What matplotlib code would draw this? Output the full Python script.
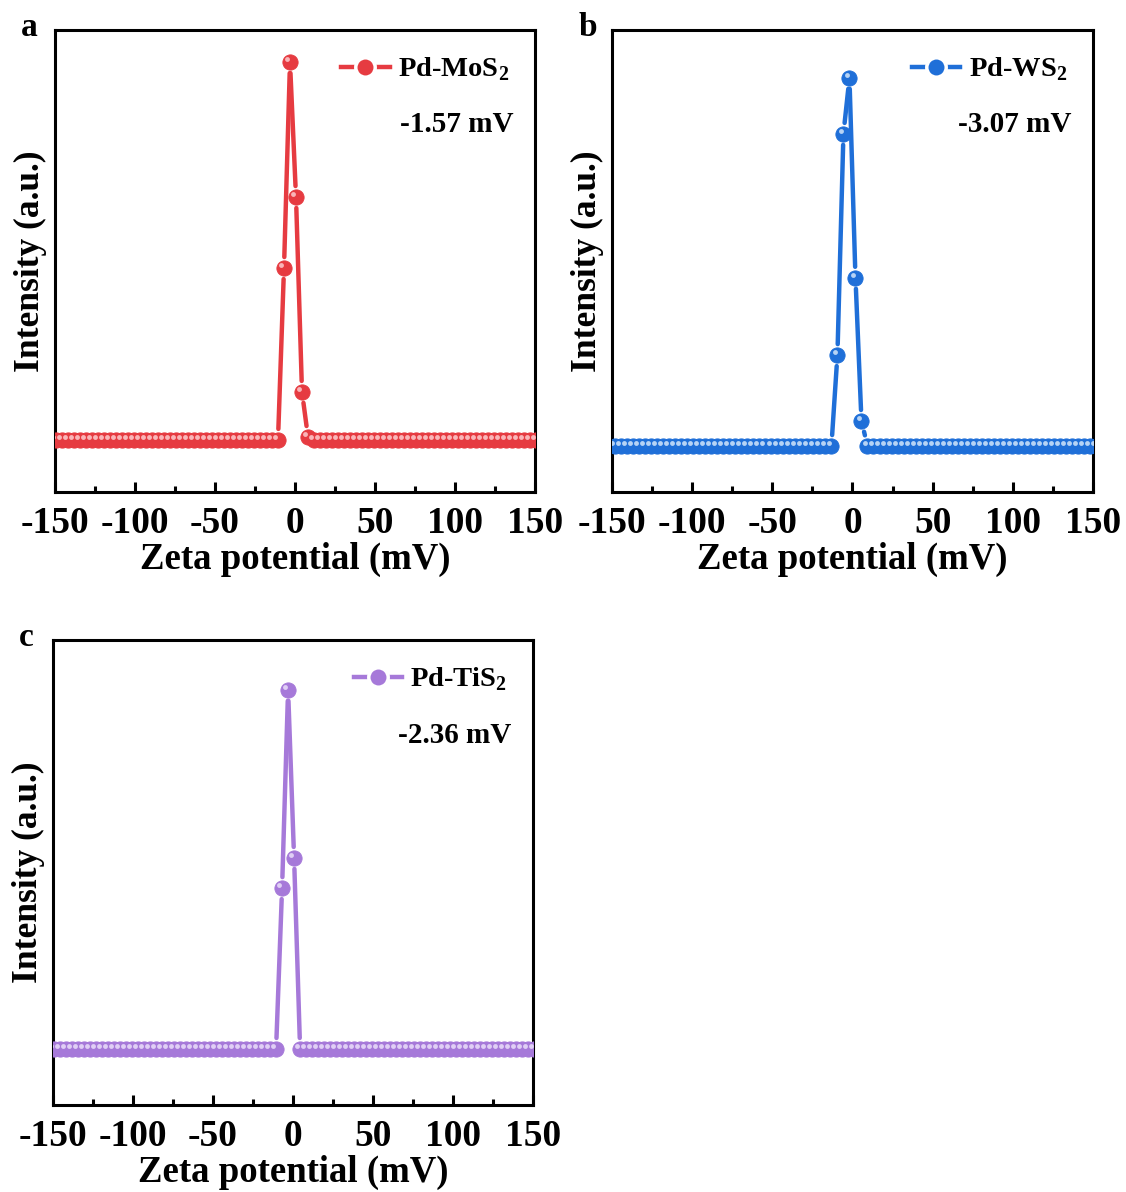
import numpy as np
import matplotlib.pyplot as plt
from matplotlib.lines import Line2D
from matplotlib import transforms

plt.rcParams['font.family'] = ['Liberation Serif', 'DejaVu Serif']
plt.rcParams['font.weight'] = 'bold'
plt.rcParams['axes.unicode_minus'] = False
plt.rcParams['mathtext.fontset'] = 'custom'
plt.rcParams['mathtext.rm'] = 'Liberation Serif:bold'
plt.rcParams['mathtext.bf'] = 'Liberation Serif:bold'

# grid spacing of the zeta potential channels (mV)
step = 3.75

# peak points (x in mV, relative intensity); everything else is baseline (0)
mos2_x = [-6.85, -3.1, 0.65, 4.4, 8.15]
mos2_y = [0.455, 1.0, 0.643, 0.127, 0.008]

ws2_x = [-9.4, -5.65, -1.9, 1.85, 5.6]
ws2_y = [0.247, 0.848, 1.0, 0.457, 0.068]

tis2_x = [-6.85, -3.1, 0.65]
tis2_y = [0.448, 1.0, 0.532]

names = [r'Pd-MoS$_2$', r'Pd-WS$_2$', r'Pd-TiS$_2$']
zetas = ['-1.57 mV', '-3.07 mV', '-2.36 mV']
colors = ['#E63B41', '#1F6FD8', '#A679D9']
light = ['#F9B5B8', '#B6D3F5', '#E0CFF5']
letters = ['a', 'b', 'c']
ylims = [(-0.138, 1.085), (-0.125, 1.13), (-0.156, 1.139)]


def full_series(px, py):
    x0 = px[0]
    k = np.arange(-int((150 + x0) / step) - 1, int((150 - x0) / step) + 2)
    x = x0 + k * step
    y = np.zeros_like(x)
    for xi, yi in zip(px, py):
        y[np.argmin(np.abs(x - xi))] = yi
    return x, y


fig = plt.figure(figsize=(11.26, 11.92), dpi=100)
positions = [[0.0488, 0.5872, 0.4263, 0.3876],
             [0.5435, 0.5872, 0.4272, 0.3876],
             [0.0471, 0.0730, 0.4263, 0.3901]]
data = [(mos2_x, mos2_y), (ws2_x, ws2_y), (tis2_x, tis2_y)]

for i in range(3):
    ax = fig.add_axes(positions[i])
    x, y = full_series(*data[i])
    ax.set_xlim(-150, 150)
    ax.set_ylim(*ylims[i])

    # lines with small gaps around each marker (done in display space)
    pts = ax.transData.transform(np.column_stack([x, y]))
    gap = 11
    inv = ax.transData.inverted()
    for p, q in zip(pts[:-1], pts[1:]):
        d = q - p
        L = np.hypot(*d)
        if L <= 2 * gap + 2:
            continue
        u = d / L
        a = inv.transform(p + u * gap)
        b = inv.transform(q - u * gap)
        ax.plot([a[0], b[0]], [a[1], b[1]], color=colors[i], lw=3.2,
                solid_capstyle='round', zorder=2)

    ax.plot(x, y, ls='none', marker='o', ms=11, mfc=colors[i],
            mec=colors[i], mew=0.6, zorder=3)
    hl = transforms.offset_copy(ax.transData, fig=fig, x=-2.0, y=2.0, units='points')
    ax.plot(x, y, ls='none', marker='o', ms=3.5, mfc=light[i], mec='none',
            transform=hl, zorder=4)

    for s in ax.spines.values():
        s.set_linewidth(2.2)
    ax.set_xticks([-150, -100, -50, 0, 50, 100, 150])
    ax.set_xticks(np.arange(-125, 150, 50), minor=True)
    ax.set_yticks([])
    ax.tick_params(axis='x', which='major', direction='in', length=7, width=2.2,
                   labelsize=27, pad=10)
    ax.tick_params(axis='x', which='minor', direction='in', length=4, width=2.2)
    ax.set_xlabel('Zeta potential (mV)', fontsize=26.5, fontweight='bold', labelpad=1)
    ax.set_ylabel('Intensity (a.u.)', fontsize=25.5, fontweight='bold', labelpad=6)

    h = Line2D([], [], color=colors[i], lw=3.2, marker='o', ms=14,
               mfc=colors[i], mec='white', mew=2.5)
    ax.legend([h], [names[i]], loc='upper right', frameon=False, fontsize=20.5,
              handlelength=1.7, handletextpad=0.3, borderaxespad=0.5)
    ax.text(0.955, 0.795, zetas[i], transform=ax.transAxes, ha='right', va='center',
            fontsize=21, fontweight='bold')

    fig.text(positions[i][0] - 0.03, positions[i][1] + positions[i][3] + 0.002,
             letters[i], fontsize=24, fontweight='bold', ha='left', va='center')

fig.savefig('out.png', dpi=100)
